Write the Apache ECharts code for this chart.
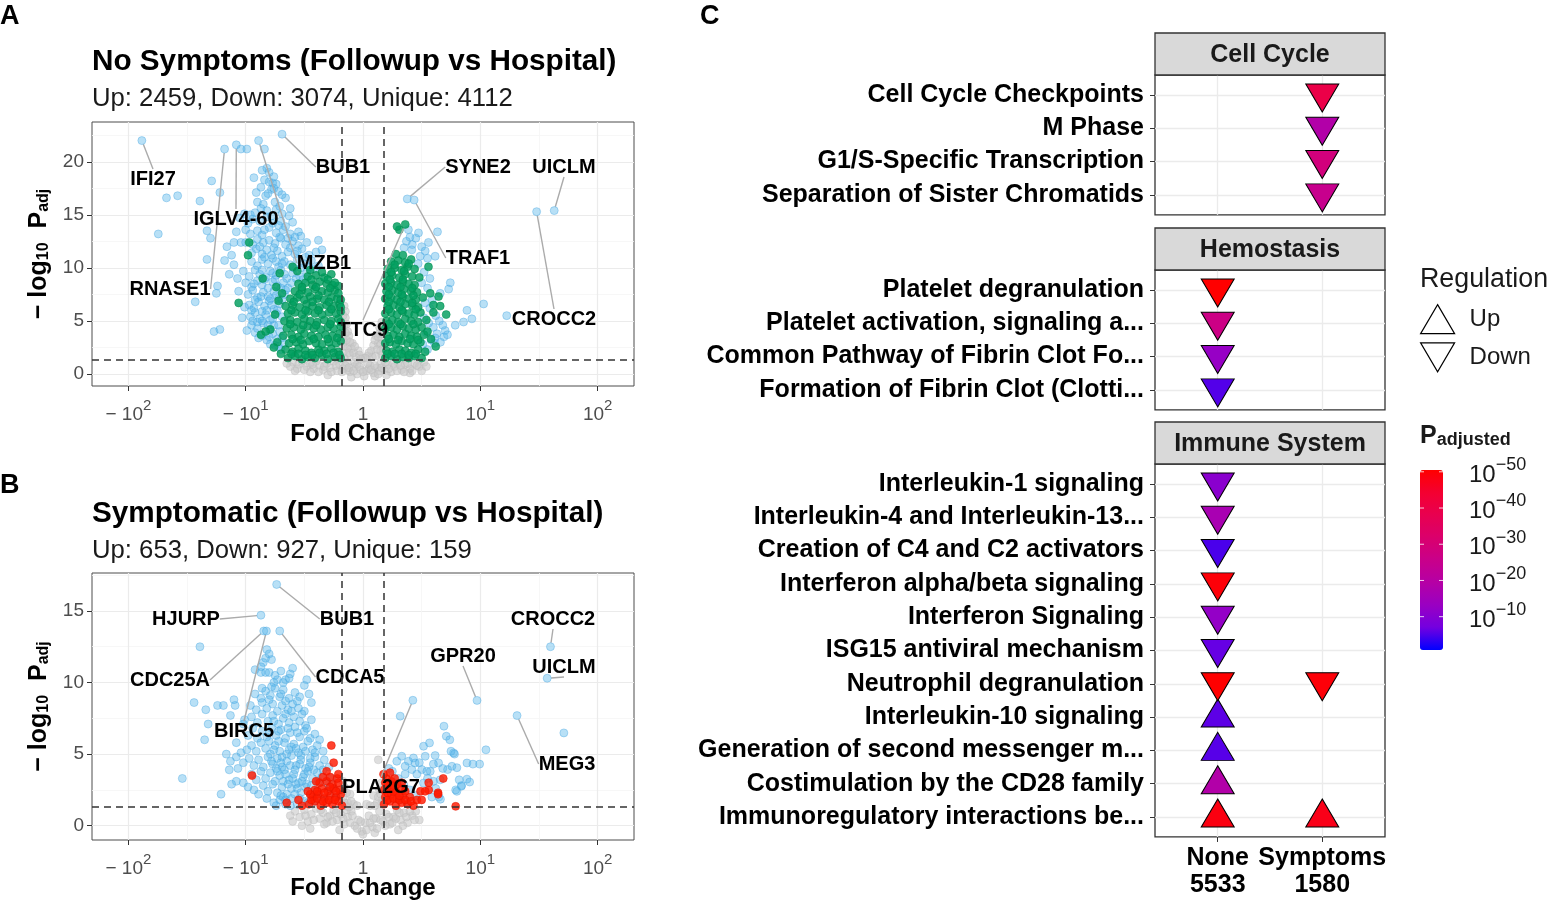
<!DOCTYPE html>
<html>
<head>
<meta charset="utf-8">
<title>Volcano plots and pathway enrichment</title>
<script src="https://cdn.jsdelivr.net/npm/echarts@6.0.0/dist/echarts.min.js"></script>
<style>
html,body{margin:0;padding:0;background:#fff;}
#chart{width:1554px;height:904px;}
</style>
</head>
<body>
<div id="chart"></div>
<script>
// ======================= DATA =======================
// Volcano plots: x = signed log10(fold change), y = -log10(Padj)
const xTickValues = [-2, -1, 0, 1, 2];
const xTickLabels = [['− 10', '2'], ['− 10', '1'], ['1', ''], ['10', '1'], ['10', '2']];
const yTickValuesA = [0, 5, 10, 15, 20];
const yTickValuesB = [0, 5, 10, 15];
const fcCutoff = 0.176;   // log10(1.5)
const padjCutoff = 1.3;   // -log10(0.05)

// ---- Panel A: No Symptoms ----
const aGrey = [[-0.60,1.1],[-0.55,0.9],[-0.52,1.2],[-0.48,0.7],[-0.45,1.0],[-0.42,0.5],[-0.40,1.2],[-0.37,0.8],[-0.34,0.4],[-0.31,1.0],[-0.28,0.6],[-0.25,1.2],[-0.22,0.3],[-0.20,0.9],[-0.17,0.5],[-0.14,1.1],[-0.11,0.2],[-0.08,0.7],[-0.05,0.0],[-0.02,0.4],[0.01,-0.2],[0.03,0.3],[0.06,0.8],[0.09,0.1],[0.12,0.6],[0.15,1.0],[0.18,0.4],[0.21,0.9],[0.24,0.2],[0.27,0.7],[0.30,1.1],[0.33,0.4],[0.36,0.9],[0.40,0.5],[0.44,1.0],[0.48,0.7],[0.52,1.1],[-0.30,-0.1],[-0.10,-0.3],[0.10,-0.2],[0.20,-0.1],[-0.45,0.2],[0.40,0.1],[-0.56,0.5],[-0.05,0.9],[0.05,0.5],[-0.13,0.4],[0.14,0.3],
 [-0.58,0.3],[-0.50,0.4],[-0.43,0.9],[-0.38,0.2],[-0.33,0.7],[-0.27,0.2],[-0.23,0.8],[-0.18,0.2],[-0.15,0.8],[-0.12,0.6],[-0.08,0.3],[-0.07,1.1],[-0.03,0.7],[0.00,0.2],[0.04,1.0],[0.07,0.4],[0.10,0.8],[0.13,0.0],[0.16,0.6],[0.19,1.1],[0.22,0.5],[0.26,1.0],[0.29,0.3],[0.32,0.8],[0.35,0.2],[0.38,1.0],[0.42,0.3],[0.46,0.8],[0.50,0.3],[0.54,0.7],[-0.62,0.7],[-0.65,1.0],
 [-0.17,2.0],[-0.16,3.0],[-0.17,4.2],[-0.15,5.3],[-0.16,6.4],[-0.13,2.5],[-0.12,3.6],[-0.14,4.7],[-0.11,1.8],[-0.09,2.9],[-0.06,1.6],[-0.04,2.2],[-0.15,5.9],[-0.13,4.0],[-0.10,2.4],[-0.16,1.5],
 [-0.17,2.6],[-0.17,3.5],[-0.16,4.6],[-0.17,5.5],[-0.14,3.2],[-0.12,2.0],[-0.11,3.0],[-0.08,2.0],[-0.07,2.6],[-0.03,1.8],[0.00,1.5],[0.04,1.7],[0.07,2.2],[0.09,2.7],[0.11,3.6],[0.13,2.9],[0.14,3.8],[0.16,3.3],[0.17,4.2],[0.17,2.4],[-0.15,3.9],
 [0.16,1.8],[0.15,2.8],[0.16,3.8],[0.14,4.4],[0.12,2.3],[0.10,3.2],[0.08,1.6],[0.05,2.0],[0.02,1.5],[0.16,4.9],[0.13,3.5],[0.11,1.7],[-0.02,1.4],[0.15,2.2]];
const aBlue = [[-1.04,21.2],[-0.99,21.2],[-0.84,21.2],[-0.82,19.4],[-0.80,19.0],
 [-1.29,18.2],[-0.93,18.5],[-0.84,18.3],[-0.80,18.1],[-0.77,18.0],[-0.74,17.9],
 [-1.22,17.1],[-0.87,17.6],[-0.78,17.4],[-0.76,17.5],[-0.72,17.2],[-0.81,17.0],
 [-1.675,16.6],[-1.58,16.8],[-1.39,16.3],[-0.66,16.6],[-0.90,16.2],[-0.85,16.0],[-0.75,16.2],
 [-1.01,15.1],[-0.96,15.0],[-0.92,15.2],[-0.82,15.4],[-0.74,15.5],[-0.69,15.1],[-0.62,15.6],
 [-1.05,14.7],[-0.94,14.6],[-0.88,14.4],[-0.82,14.8],[-0.77,14.2],[-0.70,14.4],[-0.63,14.9],[-0.60,14.3],
 [-1.745,13.2],[-1.33,13.5],[-1.00,13.6],[-0.96,13.2],[-0.90,13.5],[-0.86,13.1],[-0.80,13.8],[-0.74,13.3],[-0.68,13.6],[-0.62,13.2],[-0.55,13.4],[-0.53,13.0],
 [-1.30,12.8],[-1.10,12.4],[-1.04,12.4],[-1.00,12.4],[-0.94,12.2],[-0.90,12.7],[-0.85,12.4],[-0.80,12.6],[-0.75,12.3],[-0.70,12.8],[-0.66,12.2],[-0.60,12.5],[-0.55,12.1],[-0.48,12.4],[-0.38,12.6],
 [-0.95,11.4],[-0.91,11.8],[-0.86,11.3],[-0.82,11.7],[-0.78,11.2],[-0.73,11.6],[-0.69,11.1],[-0.64,11.5],[-0.58,11.3],[-0.52,11.8],[-0.46,11.2],[-0.40,11.5],[-0.35,11.7],
 [-1.33,10.8],[-1.18,10.7],[-1.10,10.3],[-0.95,10.6],[-0.90,10.2],[-0.86,10.8],[-0.81,10.4],[-0.77,10.9],[-0.72,10.1],[-0.67,10.6],[-0.62,10.3],[-0.56,10.8],[-0.50,10.4],[-0.44,10.7],[-0.38,10.2],
 [-1.14,9.4],[-1.02,9.7],[-0.97,9.2],[-0.92,9.8],[-0.88,9.4],[-0.83,9.1],[-0.79,9.7],[-0.74,9.3],[-0.70,9.8],[-0.65,9.0],[-0.60,9.5],[-0.54,9.2],[-0.48,9.6],
 [-1.24,8.3],[-1.00,8.6],[-0.95,8.2],[-0.90,8.8],[-0.86,8.4],[-0.81,8.1],[-0.77,8.7],[-0.73,8.3],[-0.68,8.6],[-0.64,8.1],
 [-1.25,7.6],[-0.98,7.5],[-0.94,7.9],[-0.90,7.2],[-0.85,7.7],[-0.81,7.3],[-0.76,7.8],[-0.72,7.1],[-0.67,7.5],
 [-1.43,6.8],[-0.97,6.5],[-0.93,6.2],[-0.89,6.8],[-0.84,6.4],[-0.80,6.9],[-0.76,6.1],[-0.71,6.6],
 [-0.96,5.4],[-0.92,5.8],[-0.88,5.2],[-0.83,5.6],[-0.79,5.1],[-0.74,5.7],
 [-1.27,4.0],[-1.22,4.2],[-0.95,4.6],[-0.90,4.3],[-0.85,4.8],[-0.80,4.2],[-0.76,4.6],
 [-0.86,3.6],[-0.82,3.2],[-0.77,3.8],[-0.73,3.3],[-0.75,2.7],[-0.70,2.3],
 [-0.78,14.9],[-0.72,14.0],[-0.66,13.9],[-0.84,13.6],[-0.71,12.9],[-0.64,12.8],[-0.58,12.9],[-0.88,12.0],[-0.76,11.9],[-0.62,11.9],[-0.56,11.6],[-0.49,11.0],[-0.84,11.0],[-0.74,10.6],[-0.69,10.4],[-0.59,10.0],[-0.53,10.0],[-0.46,10.1],[-0.42,9.9],[-0.86,9.8],[-0.77,9.5],[-0.67,9.4],[-0.57,9.0],[-0.51,8.9],[-0.93,8.5],[-0.84,8.9],[-0.75,8.9],[-0.70,8.1],[-0.66,7.9],[-0.61,8.6],[-0.92,7.0],[-0.87,7.3],[-0.79,7.1],[-0.74,7.4],[-0.69,7.0],[-0.95,6.0],[-0.86,5.9],[-0.82,6.0],[-0.78,6.5],[-0.73,6.0],[-0.69,5.4],[-0.94,5.0],[-0.90,4.9],[-0.86,5.0],[-0.81,4.6],[-0.77,5.2],[-0.72,4.6],[-0.71,4.0],[-0.92,3.9],[-0.89,3.4],[-0.80,3.5],[-0.69,3.4],[-0.79,2.8],[-0.72,2.6],[-0.67,2.9],[-0.99,4.1],[-1.03,5.3],[-1.01,6.3],[-1.06,7.8],[-1.07,9.0],[-1.12,11.2],[-1.16,12.0],[-1.08,13.4],[-0.98,14.2],[-0.87,15.6],[-0.71,15.8],[-0.69,16.9],[-0.83,16.8],[-0.91,17.1],[-0.76,18.6],[-0.86,19.2],
 [0.387,13.6],[0.473,13.3],[0.558,12.4],[0.635,13.4],[0.416,11.7],[0.487,11.1],[0.615,11.1],[0.744,8.6],[0.73,8.0],[0.658,7.6],[0.786,4.6],[0.857,4.9],[0.886,6.0],[0.928,5.2],[1.028,6.6],[1.225,5.5],[0.63,3.8],[0.69,3.5],[0.70,4.1],[0.615,3.4],
 [0.45,12.8],[0.50,12.0],[0.42,12.2],[0.53,11.6],[0.47,10.4],[0.55,10.9],[0.52,9.6],[0.57,9.0],[0.50,8.6],[0.55,8.1],[0.59,7.0],[0.53,6.7],[0.57,6.2],[0.52,5.3],[0.56,4.8],[0.60,4.4],[0.54,3.9],[0.58,3.2],[0.51,2.8],[0.55,2.3],[0.61,2.9],[0.65,5.0],[0.68,4.6],[0.62,5.5],[0.66,3.0],[0.72,3.7],[0.40,12.9],[0.37,12.5],[0.35,11.9]];
const aGreen = [[-0.64,1.5],[-0.58,1.7],[-0.52,1.4],[-0.47,1.6],[-0.41,1.5],[-0.35,1.8],[-0.30,1.4],[-0.24,1.6],[-0.19,1.5],
 [-0.66,2.3],[-0.60,2.1],[-0.55,2.4],[-0.49,2.2],[-0.44,2.0],[-0.38,2.3],[-0.33,2.2],[-0.27,2.4],[-0.21,2.1],
 [-0.63,2.9],[-0.57,3.0],[-0.51,2.8],[-0.46,3.1],[-0.40,2.9],[-0.35,2.8],[-0.29,3.0],[-0.23,2.9],[-0.19,3.1],
 [-0.68,3.6],[-0.61,3.7],[-0.55,3.5],[-0.50,3.8],[-0.44,3.6],[-0.38,3.5],[-0.32,3.7],[-0.26,3.6],[-0.20,3.8],
 [-0.65,4.3],[-0.59,4.4],[-0.53,4.2],[-0.47,4.5],[-0.42,4.3],[-0.36,4.2],[-0.30,4.4],[-0.25,4.3],[-0.19,4.5],
 [-0.67,5.0],[-0.62,5.1],[-0.56,4.9],[-0.50,5.2],[-0.45,5.0],[-0.39,4.9],[-0.33,5.1],[-0.27,5.0],[-0.21,5.2],
 [-0.64,5.7],[-0.58,5.8],[-0.52,5.6],[-0.47,5.9],[-0.41,5.7],[-0.35,5.6],[-0.29,5.8],[-0.23,5.7],[-0.19,5.9],
 [-0.66,6.4],[-0.60,6.5],[-0.54,6.3],[-0.48,6.6],[-0.43,6.4],[-0.37,6.3],[-0.31,6.5],[-0.25,6.4],[-0.20,6.6],
 [-0.62,7.1],[-0.56,7.2],[-0.50,7.0],[-0.45,7.3],[-0.39,7.1],[-0.33,7.0],[-0.27,7.2],[-0.22,7.1],
 [-0.58,7.8],[-0.52,7.9],[-0.47,7.7],[-0.41,8.0],[-0.35,7.8],[-0.30,7.7],[-0.24,7.9],
 [-0.55,8.5],[-0.49,8.6],[-0.43,8.4],[-0.37,8.7],[-0.31,8.5],[-0.26,8.4],
 [-0.47,9.2],[-0.40,9.3],[-0.33,9.1],[-0.27,9.4],
 [-0.61,1.9],[-0.55,1.9],[-0.49,1.8],[-0.43,1.8],[-0.37,2.0],[-0.31,1.9],[-0.25,2.0],[-0.20,1.8],[-0.60,3.3],[-0.53,3.2],[-0.42,3.3],[-0.30,3.3],[-0.22,3.4],[-0.62,4.7],[-0.51,4.6],[-0.40,4.6],[-0.28,4.7],[-0.19,4.9],[-0.61,6.0],[-0.49,6.0],[-0.38,6.0],[-0.27,6.1],[-0.19,6.3],[-0.59,6.8],[-0.43,6.8],[-0.29,6.8],[-0.19,7.0],[-0.54,7.5],[-0.38,7.4],[-0.21,7.6],[-0.52,8.2],[-0.40,8.2],[-0.28,8.1],[-0.21,8.3],[-0.44,8.9],[-0.30,8.9],
 [-0.97,12.4],[-0.98,11.2],[-1.06,6.7],[-0.855,9.0],[-0.79,4.2],[-0.87,3.7],[-0.71,9.5],[-0.56,9.7],[-0.45,9.8],[-0.35,9.6],[-0.24,8.6],[-0.74,8.2],[-0.72,6.9],[-0.75,5.6],[-0.73,3.0],[-0.70,1.9],[-0.76,2.5],[-0.83,4.0],[-0.69,7.6],[-0.60,10.1],
 [0.19,1.5],[0.24,1.7],[0.29,1.4],[0.34,1.6],[0.39,1.5],[0.44,1.7],[0.50,1.5],
 [0.20,2.2],[0.25,2.1],[0.31,2.3],[0.36,2.2],[0.41,2.0],[0.47,2.3],[0.53,2.1],
 [0.19,2.9],[0.23,3.0],[0.28,2.8],[0.33,3.1],[0.38,2.9],[0.43,2.8],[0.49,3.0],
 [0.21,3.6],[0.26,3.7],[0.31,3.5],[0.36,3.8],[0.41,3.6],[0.46,3.5],[0.52,3.7],
 [0.19,4.3],[0.24,4.4],[0.29,4.2],[0.34,4.5],[0.39,4.3],[0.45,4.2],[0.50,4.4],
 [0.20,5.0],[0.25,5.1],[0.30,4.9],[0.36,5.2],[0.41,5.0],[0.47,4.9],[0.54,5.1],
 [0.19,5.7],[0.24,5.8],[0.29,5.6],[0.34,5.9],[0.39,5.7],[0.44,5.6],[0.49,5.8],
 [0.21,6.4],[0.26,6.5],[0.31,6.3],[0.36,6.6],[0.42,6.4],[0.47,6.3],
 [0.19,7.1],[0.24,7.2],[0.29,7.0],[0.34,7.3],[0.39,7.1],[0.45,7.0],[0.51,7.2],
 [0.20,7.8],[0.25,7.9],[0.30,7.7],[0.35,8.0],[0.41,7.8],[0.46,7.7],
 [0.19,8.5],[0.24,8.6],[0.29,8.4],[0.34,8.7],[0.39,8.5],[0.44,8.4],
 [0.20,9.2],[0.25,9.3],[0.31,9.1],[0.36,9.4],[0.42,9.2],[0.48,9.1],
 [0.21,9.9],[0.27,10.0],[0.33,9.8],[0.38,10.1],[0.44,9.9],
 [0.24,10.6],[0.30,10.7],[0.36,10.5],[0.41,10.8],[0.28,11.3],[0.34,11.2],
 [0.21,1.9],[0.27,1.9],[0.33,1.9],[0.39,1.8],[0.45,1.9],[0.22,3.3],[0.30,3.2],[0.40,3.3],[0.47,3.2],[0.22,4.7],[0.32,4.7],[0.43,4.7],[0.22,6.1],[0.33,6.0],[0.45,6.1],[0.22,6.8],[0.32,6.8],[0.42,6.7],[0.22,7.5],[0.33,7.5],[0.43,7.4],[0.22,8.2],[0.32,8.2],[0.42,8.1],[0.23,8.9],[0.34,8.9],[0.24,9.6],[0.35,9.7],[0.27,10.3],[0.39,10.4],
 [0.31,13.6],[0.29,13.9],[0.558,10.1],[0.573,7.6],[0.644,7.3],[0.658,6.4],[0.709,5.6],[0.60,5.8],[0.60,6.5],[0.55,4.0],[0.58,3.3],[0.62,2.6]];
const aGenes     = ['IFI27','RNASE1','IGLV4-60','MZB1','BUB1','SYNE2','TRAF1','TTC9','UICLM','CROCC2'];
const aGeneFC    = [-1.885,-1.18,-1.08,-0.89,-0.69,0.377,0.436,0.36,1.63,1.48];
const aGeneP     = [22.0,21.2,21.6,22.0,22.6,16.5,16.4,14.1,15.4,15.3];
const aGeneGroup = ['blue','blue','blue','blue','blue','blue','blue','green','blue','blue'];

// ---- Panel B: Symptomatic ----
const bGrey = [[-0.58,1.0],[-0.54,0.6],[-0.50,1.1],[-0.47,0.3],[-0.44,0.8],[-0.40,1.2],[-0.37,0.5],[-0.34,0.9],[-0.31,0.2],[-0.28,0.7],[-0.25,1.1],[-0.22,0.4],[-0.19,0.8],[-0.16,0.1],[-0.13,0.6],[-0.10,1.0],[-0.07,0.0],[-0.04,0.4],[-0.01,-0.4],[0.02,0.2],[0.05,0.7],[0.08,-0.1],[0.11,0.5],[0.14,1.0],[0.17,0.3],[0.20,0.8],[0.23,0.1],[0.26,0.6],[0.29,1.1],[0.32,0.4],[0.35,0.9],[0.38,0.2],[0.42,0.7],[0.45,1.0],[-0.45,-0.2],[-0.20,-0.3],[0.00,-0.6],[0.10,-0.5],[0.30,-0.3],[-0.62,0.7],[0.48,0.4],
 [-0.60,0.3],[-0.52,0.0],[-0.49,0.7],[-0.42,0.4],[-0.36,1.1],[-0.33,0.1],[-0.30,0.6],[-0.26,0.3],[-0.23,0.9],[-0.17,0.5],[-0.14,1.1],[-0.11,0.2],[-0.09,0.7],[-0.05,-0.2],[-0.02,0.3],[0.03,-0.3],[0.06,0.2],[0.09,0.5],[0.12,-0.2],[0.15,0.4],[0.19,0.0],[0.22,0.6],[0.25,0.2],[0.28,0.5],[0.31,0.9],[0.34,0.0],[0.37,0.6],[0.40,1.0],[0.44,0.4],
 [-0.17,2.0],[-0.16,2.7],[-0.13,1.6],[-0.11,2.2],[-0.08,1.5],[0.16,1.8],[0.14,2.5],[0.12,1.6],[0.09,2.1],[0.06,1.4],[0.13,4.6],[-0.17,3.1],[-0.15,1.4],[0.16,3.0],
 [-0.16,1.6],[-0.14,2.3],[-0.12,1.3],[-0.10,1.7],[-0.05,1.4],[0.03,1.5],[0.10,1.4],[0.13,2.0],[0.15,2.2],[0.17,1.5],[-0.17,2.4]];
const bBlue = [[-0.82,12.3],[-0.80,12.0],[-0.83,11.7],[-0.85,11.4],[-0.87,11.1],[-0.60,11.0],[-0.62,10.6],[-0.78,11.6],[-1.39,12.5],
 [-0.92,10.9],[-0.87,10.7],[-0.83,10.7],[-0.80,10.7],[-0.75,10.5],[-0.70,10.8],[-0.73,10.2],[-0.66,10.2],[-0.63,10.3],[-0.48,10.2],[-0.50,9.8],
 [-0.92,9.2],[-0.87,8.9],[-0.83,9.4],[-0.79,9.1],[-0.75,9.6],[-0.71,9.0],[-0.68,9.5],[-0.63,8.9],[-0.58,9.3],[-0.54,9.0],[-0.46,9.2],[-0.44,8.6],
 [-1.44,8.6],[-1.34,8.1],[-1.24,8.4],[-1.19,8.4],[-1.10,8.8],[-1.09,8.4],[-0.96,8.4],[-0.91,8.1],[-0.86,8.6],[-0.82,8.2],[-0.77,8.5],[-0.73,8.0],[-0.69,8.4],[-0.64,8.1],[-0.60,8.5],[-0.55,8.2],[-0.50,8.0],
 [-1.32,7.1],[-1.13,7.7],[-1.01,7.4],[-1.02,7.1],[-0.95,7.6],[-0.90,7.2],[-0.86,7.8],[-0.81,7.3],[-0.77,7.7],[-0.72,7.1],[-0.68,7.5],[-0.63,7.2],[-0.59,7.6],[-0.54,7.3],[-0.49,7.0],[-0.44,7.4],
 [-1.35,6.0],[-0.98,6.3],[-0.94,6.8],[-0.90,6.1],[-0.86,6.6],[-0.82,6.2],[-0.78,6.8],[-0.74,6.3],[-0.70,6.7],[-0.66,6.1],[-0.62,6.5],[-0.58,6.9],[-0.54,6.2],[-0.50,6.6],[-0.45,6.1],[-0.41,6.4],[-0.37,6.0],
 [-1.165,5.0],[-1.04,5.1],[-0.99,5.3],[-1.08,5.8],[-0.95,5.6],[-0.91,5.2],[-0.87,5.8],[-0.83,5.4],[-0.79,5.0],[-0.75,5.6],[-0.71,5.2],[-0.67,5.8],[-0.63,5.3],[-0.59,5.7],[-0.55,5.1],[-0.51,5.5],[-0.47,5.9],[-0.43,5.3],[-0.39,5.6],[-0.34,5.2],
 [-1.13,4.5],[-1.08,4.8],[-1.14,3.9],[-1.066,4.0],[-1.02,4.4],[-0.97,4.7],[-0.93,4.2],[-0.89,4.6],[-0.85,4.1],[-0.81,4.8],[-0.77,4.3],[-0.73,4.7],[-0.69,4.1],[-0.65,4.5],[-0.61,4.9],[-0.57,4.2],[-0.53,4.6],[-0.49,4.0],[-0.45,4.4],[-0.41,4.8],[-0.37,4.2],[-0.33,4.6],[-0.29,4.1],
 [-1.54,3.3],[-1.08,3.1],[-1.02,3.0],[-0.98,2.7],[-0.95,3.6],[-0.91,3.2],[-0.87,3.8],[-0.83,3.3],[-0.79,3.7],[-0.75,3.1],[-0.71,3.5],[-0.67,3.9],[-0.63,3.2],[-0.59,3.6],[-0.55,3.0],[-0.51,3.4],[-0.47,3.8],[-0.43,3.3],[-0.39,3.7],[-0.35,3.4],[-0.31,3.0],[-0.27,3.3],
 [-1.21,2.2],[-1.12,2.9],[-0.93,2.5],[-0.89,2.2],[-0.85,2.8],[-0.81,2.4],[-0.77,2.9],[-0.73,2.3],[-0.69,2.7],[-0.65,2.2],[-0.61,2.6],[-0.57,2.9],[-0.53,2.3],[-0.49,2.7],[-0.45,2.2],[-0.29,2.6],[-0.24,2.2],
 [-0.82,1.9],[-0.76,1.6],[-0.71,1.8],[-0.66,1.5],[-0.61,1.9],[-0.56,1.5],[-0.50,1.7],[-0.62,1.4],[-0.68,2.0],[-0.74,1.4],
 [-0.80,5.9],[-0.76,5.3],[-0.72,5.9],[-0.69,4.8],[-0.65,5.0],[-0.61,5.5],[-0.57,5.4],[-0.53,4.9],[-0.49,5.2],[-0.45,4.7],[-0.41,5.1],[-0.78,4.5],[-0.74,4.0],[-0.70,4.4],[-0.66,3.6],[-0.62,4.2],[-0.58,3.9],[-0.54,4.3],[-0.50,3.6],[-0.46,4.1],[-0.42,3.9],[-0.38,3.1],[-0.34,3.9],[-0.73,3.8],[-0.68,3.1],[-0.64,2.9],[-0.60,3.3],[-0.56,2.6],[-0.52,3.1],[-0.48,2.9],[-0.44,2.8],[-0.40,2.2],[-0.36,2.0],[-0.70,2.1],[-0.66,1.8],[-0.58,2.2],[-0.54,1.9],[-0.47,1.6],[-0.42,1.7],[-0.80,6.5],[-0.72,6.6],[-0.64,6.8],[-0.56,6.5],[-0.48,6.8],[-0.76,7.3],[-0.66,7.8],[-0.61,8.0],[-0.52,7.8],[-0.80,8.8],[-0.70,9.2],[-0.66,8.7],[-0.56,8.7],[-0.76,10.0],[-0.68,10.0],[-0.86,9.6],[-0.78,9.7],
 [0.317,7.65],[0.69,6.95],[0.71,6.25],[0.74,6.0],[0.516,5.55],[0.567,5.78],[1.048,5.3],[0.772,5.08],[1.712,6.48],
 [0.33,4.85],[0.43,4.73],[0.53,4.85],[0.615,4.9],[0.644,4.38],[0.444,4.38],[0.387,4.5],[0.288,4.5],[0.886,4.38],[0.937,4.3],[0.994,4.3],[0.721,3.92],[0.758,4.15],[0.80,4.05],[0.359,4.15],[0.416,3.92],[0.501,3.92],[0.573,3.8],[0.544,3.8],[0.886,3.25],[0.909,3.05],[0.601,3.1],[0.658,3.2],[0.516,2.98],[0.459,3.6],[0.359,3.6],[0.80,2.4],[0.838,2.75],[0.647,2.0],[0.66,1.85],[0.587,2.0],[0.30,3.3],[0.26,3.0],[0.35,2.8],[0.40,2.5],[0.27,2.2],[0.32,1.9],[0.45,2.1],[0.38,1.6],[0.75,5.2],[0.78,5.0],[0.84,2.8],[0.79,2.5],[0.82,3.2],[0.60,4.3],[0.68,4.0],[0.48,4.4],[0.25,3.8],[0.22,4.0],[0.55,3.3],[0.62,2.6]];
const bRed = [[-0.46,1.5],[-0.41,1.7],[-0.36,1.4],[-0.31,1.6],[-0.26,1.5],[-0.21,1.7],[-0.18,1.4],
 [-0.43,2.0],[-0.38,2.2],[-0.33,1.9],[-0.28,2.1],[-0.23,2.0],[-0.19,2.2],
 [-0.41,2.5],[-0.35,2.6],[-0.30,2.4],[-0.25,2.6],[-0.20,2.5],
 [-0.37,3.0],[-0.31,3.1],[-0.26,2.9],[-0.21,3.0],
 [-0.44,1.8],[-0.39,1.9],[-0.34,1.7],[-0.29,1.8],[-0.24,1.8],[-0.39,2.4],[-0.33,2.3],[-0.28,2.7],[-0.23,2.4],[-0.34,3.4],[-0.28,3.4],[-0.22,3.3],[-0.45,2.2],
 [-0.27,5.6],[-0.25,4.4],[-0.31,3.8],[-0.21,3.6],[-0.40,3.1],[-0.47,2.4],[-0.52,1.4],[-0.946,3.5],[-0.65,1.6],[-0.55,1.8],
 [0.18,1.5],[0.23,1.7],[0.28,1.4],[0.33,1.6],[0.38,1.5],[0.43,1.4],
 [0.19,2.0],[0.24,2.2],[0.29,1.9],[0.34,2.1],[0.40,2.0],
 [0.18,2.5],[0.23,2.6],[0.28,2.4],[0.33,2.6],
 [0.19,3.0],[0.24,3.1],[0.29,2.9],
 [0.21,1.8],[0.26,1.9],[0.31,1.8],[0.36,1.8],[0.41,1.7],[0.21,2.3],[0.26,2.4],[0.31,2.1],[0.36,2.4],[0.21,2.8],[0.26,2.8],[0.33,3.0],[0.20,3.3],[0.27,3.3],
 [0.175,3.6],[0.23,3.7],[0.56,2.5],[0.49,2.4],[0.56,3.0],[0.64,2.3],[0.684,3.3],[0.79,1.35],[0.46,1.8],[0.50,1.8],[0.53,2.4],[0.64,2.2]];
const bGenes     = ['HJURP','BUB1','CDC25A','BIRC5','CDCA5','PLA2G7','GPR20','CROCC2','UICLM','MEG3'];
const bGeneFC    = [-0.87,-0.736,-0.846,-0.823,-0.71,0.425,0.972,1.598,1.57,1.313];
const bGeneP     = [14.7,16.85,13.6,13.6,13.6,8.76,8.75,12.5,10.3,7.69];
const bGeneGroup = ['blue','blue','blue','blue','blue','blue','blue','blue','blue','blue'];

// ---- Panel C: Reactome pathways (value = -log10 Padj) ----
const groupLabels = ['None\n5533', 'Symptoms\n1580'];
const cellCyclePaths = ['Cell Cycle Checkpoints','M Phase','G1/S-Specific Transcription','Separation of Sister Chromatids'];
const cellCycleNoneDir  = [null, null, null, null];
const cellCycleNoneLogP = [null, null, null, null];
const cellCycleSympDir  = ['Down','Down','Down','Down'];
const cellCycleSympLogP = [39.6, 18.7, 28.6, 25.0];
const hemostasisPaths = ['Platelet degranulation','Platelet activation, signaling a...','Common Pathway of Fibrin Clot Fo...','Formation of Fibrin Clot (Clotti...'];
const hemostasisNoneDir  = ['Down','Down','Down','Down'];
const hemostasisNoneLogP = [50.5, 26.6, 12.7, 5.3];
const hemostasisSympDir  = [null, null, null, null];
const hemostasisSympLogP = [null, null, null, null];
const immunePaths = ['Interleukin-1 signaling','Interleukin-4 and Interleukin-13...','Creation of C4 and C2 activators','Interferon alpha/beta signaling','Interferon Signaling','ISG15 antiviral mechanism','Neutrophil degranulation','Interleukin-10 signaling','Generation of second messenger m...','Costimulation by the CD28 family','Immunoregulatory interactions be...'];
const immuneNoneDir  = ['Down','Down','Down','Down','Down','Down','Down','Up','Up','Up','Up'];
const immuneNoneLogP = [10.7, 16.7, 4.8, 49.5, 12.2, 6.3, 50.5, 5.8, 5.5, 18.7, 48.5];
const immuneSympDir  = [null, null, null, null, null, null, 'Down', null, null, null, 'Up'];
const immuneSympLogP = [null, null, null, null, null, null, 49.5, null, null, null, 47.5];
const pLegendExponents = [50, 40, 30, 20, 10];
const padjRange = [0.8, 50.5];

// ======================= STYLE / LAYOUT =======================
const FF = '"Liberation Sans", Arial, Helvetica, sans-serif';
const ptFill   = { grey:'rgba(200,200,200,0.6)', blue:'rgba(86,180,233,0.42)', green:'rgba(0,158,94,0.82)', red:'rgba(255,26,0,0.82)' };
const ptBorder = { grey:'rgba(185,185,185,0.6)', blue:'rgba(70,165,225,0.65)', green:'rgba(0,140,80,0.85)', red:'rgba(230,20,0,0.85)' };
const gradient = ['#0000FF','#7300E0','#9A00C2','#B500A5','#C9008A','#DA006C','#E80050','#F40031','#FF0000'];
const aLabelPos = { IFI27:[153,179], RNASE1:[170,289], 'IGLV4-60':[236,219], MZB1:[324,263], BUB1:[343,167], SYNE2:[478,167], TRAF1:[478,258], TTC9:[363,330], UICLM:[564,167], CROCC2:[554,319] };
const bLabelPos = { HJURP:[186,619], BUB1:[347,619], CDC25A:[170,680], BIRC5:[244,731], CDCA5:[350,677], PLA2G7:[381,787], GPR20:[463,656], CROCC2:[553,619], UICLM:[564,667], MEG3:[567,764] };
const volGrids = [ {left:92, top:122, width:542, height:264}, {left:92, top:573, width:542, height:267} ];
const volY = [ {min:-1.13, max:23.75, split:5, ticks:yTickValuesA}, {min:-1.0, max:17.65, split:4, ticks:yTickValuesB} ];
const cLeft = 1155, cWidth = 230, stripH = 42, rowH = 33.3;
const facetStripTops = [33, 228, 422];
const cbar = { left: 1420, top: 470, width: 23, height: 180 };

const facets = [
  { name:'Cell Cycle', paths:cellCyclePaths, noneDir:cellCycleNoneDir, noneP:cellCycleNoneLogP, sympDir:cellCycleSympDir, sympP:cellCycleSympLogP },
  { name:'Hemostasis', paths:hemostasisPaths, noneDir:hemostasisNoneDir, noneP:hemostasisNoneLogP, sympDir:hemostasisSympDir, sympP:hemostasisSympLogP },
  { name:'Immune System', paths:immunePaths, noneDir:immuneNoneDir, noneP:immuneNoneLogP, sympDir:immuneSympDir, sympP:immuneSympLogP }
];

// ======================= BUILD OPTION =======================
const grid = [], xAxis = [], yAxis = [], series = [], graphic = [];
const axisGrey = '#4D4D4D';

function findIdx(arr, v) { for (let i = 0; i < arr.length; i++) if (Math.abs(arr[i] - v) < 1e-6) return i; return -1; }

volGrids.forEach((g, k) => {
  grid.push(Object.assign({ show:true, borderColor:'#4D4D4D', borderWidth:1, backgroundColor:'#fff', containLabel:false, outerBoundsMode:'none' }, g));
  xAxis.push({
    type:'value', gridIndex:k, min:-2.31, max:2.31, splitNumber:5,
    axisLine:{show:false, onZero:false},
    axisTick:{show:true, length:5, customValues:xTickValues, lineStyle:{color:'#333', width:1}},
    axisLabel:{ customValues:xTickValues, margin:12,
      formatter:(v) => { const i = findIdx(xTickValues, v); if (i < 0) return ''; const t = xTickLabels[i]; return t[1] ? '{b|' + t[0] + '}{s|' + t[1] + '}' : '{b|' + t[0] + '}'; },
      rich:{ b:{fontSize:19, color:axisGrey, fontFamily:FF, lineHeight:26, verticalAlign:'bottom'}, s:{fontSize:15, color:axisGrey, fontFamily:FF, verticalAlign:'top'} } },
    splitLine:{show:true, lineStyle:{color:'#EBEBEB', width:1.2}},
    minorTick:{show:false, splitNumber:2},
    minorSplitLine:{show:true, lineStyle:{color:'#F5F5F5', width:0.8}},
    name:'Fold Change', nameLocation:'middle', nameGap:36, nameMoveOverlap:false,
    nameTextStyle:{fontSize:24, fontWeight:'bold', color:'#000', fontFamily:FF}
  });
  const vy = volY[k];
  yAxis.push({
    type:'value', gridIndex:k, min:vy.min, max:vy.max, splitNumber:vy.split,
    axisLine:{show:false, onZero:false},
    axisTick:{show:true, length:5, customValues:vy.ticks, lineStyle:{color:'#333', width:1}},
    axisLabel:{ customValues:vy.ticks, margin:8, fontSize:19, color:axisGrey, fontFamily:FF,
      formatter:(v) => findIdx(vy.ticks, v) >= 0 ? String(v) : '' },
    splitLine:{show:true, lineStyle:{color:'#EBEBEB', width:1.2}},
    minorTick:{show:false, splitNumber:2},
    minorSplitLine:{show:true, lineStyle:{color:'#F5F5F5', width:0.8}},
    name:'{l|− log}{s|10}{l|  P}{s|adj}', nameLocation:'middle', nameGap:40, nameRotate:90,
    nameTextStyle:{ color:'#000', rich:{ l:{fontSize:25, fontWeight:'bold', color:'#000', fontFamily:FF}, s:{fontSize:16, fontWeight:'bold', color:'#000', fontFamily:FF, verticalAlign:'bottom'} } }
  });
});

function pointSeries(k, data, grp, z) {
  return { type:'scatter', xAxisIndex:k, yAxisIndex:k, data:data, symbol:'circle', symbolSize:8, z:z, silent:true,
    itemStyle:{ color:ptFill[grp], borderColor:ptBorder[grp], borderWidth:0.6, opacity:1 } };
}
function labelSeries(k, genes, fc, p, grp, pos) {
  return { type:'scatter', xAxisIndex:k, yAxisIndex:k, z:4, symbol:'circle', symbolSize:8, silent:true,
    data: genes.map((g, i) => ({ name:g, value:[fc[i], p[i]], itemStyle:{ color:ptFill[grp[i]], borderColor:ptBorder[grp[i]], borderWidth:0.6, opacity:1 } })),
    label:{ show:true, formatter:'{b}', fontSize:20, fontWeight:'bold', color:'#000', opacity:1, fontFamily:FF, align:'center', verticalAlign:'middle' },
    labelLine:{ show:true, length2:0, lineStyle:{ color:'#ABABAB', width:1.4, opacity:1 } },
    labelLayout:(params) => { const q = pos[genes[params.dataIndex]]; return { x:q[0], y:q[1], align:'center', verticalAlign:'middle' }; }
  };
}
function cutoffSeries(k) {
  return { type:'scatter', xAxisIndex:k, yAxisIndex:k, data:[], z:6, silent:true,
    markLine:{ silent:true, z:6, symbol:['none','none'], label:{show:false}, animation:false,
      lineStyle:{ color:'#333', type:[7,5], width:1.5 },
      data:[ {xAxis:-fcCutoff}, {xAxis:fcCutoff}, {yAxis:padjCutoff} ] } };
}

series.push(pointSeries(0, aGrey, 'grey', 1));
series.push(pointSeries(0, aBlue, 'blue', 2));
series.push(pointSeries(0, aGreen, 'green', 3));
series.push(labelSeries(0, aGenes, aGeneFC, aGeneP, aGeneGroup, aLabelPos));
series.push(cutoffSeries(0));
series.push(pointSeries(1, bGrey, 'grey', 1));
series.push(pointSeries(1, bBlue, 'blue', 2));
series.push(pointSeries(1, bRed, 'red', 3));
series.push(labelSeries(1, bGenes, bGeneFC, bGeneP, bGeneGroup, bLabelPos));
series.push(cutoffSeries(1));

// ---- Panel C facets ----
const triSeriesIdx = [];
facets.forEach((f, fi) => {
  const gi = 2 + fi;
  const n = f.paths.length;
  const top = facetStripTops[fi] + stripH;
  const h = (n + 0.2) * rowH;
  const isLast = fi === facets.length - 1;
  const rowIdx = f.paths.map((_, i) => i);
  grid.push({ left:cLeft, top:top, width:cWidth, height:h, show:true, borderColor:'#333', borderWidth:1.3, backgroundColor:'#fff', containLabel:false, outerBoundsMode:'none' });
  xAxis.push({ type:'value', gridIndex:gi, min:-0.6, max:1.6, splitNumber:2,
    axisLine:{show:false, onZero:false},
    axisTick:{show:isLast, length:5, customValues:[0,1], lineStyle:{color:'#333'}},
    axisLabel:{show:isLast, customValues:[0,1], margin:8, fontSize:25, fontWeight:'bold', color:'#000', fontFamily:FF, lineHeight:27,
      formatter:(v) => (Number.isInteger(v) && groupLabels[v]) ? groupLabels[v] : ''},
    splitLine:{show:true, lineStyle:{color:'#EBEBEB', width:1.3}} });
  yAxis.push({ type:'value', gridIndex:gi, inverse:true, min:-0.6, max:n - 0.4, splitNumber:n + 1,
    axisLine:{show:false, onZero:false},
    axisTick:{show:true, length:5, customValues:rowIdx, lineStyle:{color:'#333'}},
    axisLabel:{customValues:rowIdx, margin:11, fontSize:25, fontWeight:'bold', color:'#000', fontFamily:FF,
      formatter:(v) => (Number.isInteger(v) && f.paths[v]) ? f.paths[v] : ''},
    splitLine:{show:true, lineStyle:{color:'#EBEBEB', width:1.3}} });
  ['Up','Down'].forEach((dir) => {
    const data = [];
    f.paths.forEach((_, i) => {
      if (f.noneDir[i] === dir) data.push([0, i, f.noneP[i]]);
      if (f.sympDir[i] === dir) data.push([1, i, f.sympP[i]]);
    });
    triSeriesIdx.push(series.length);
    series.push({ type:'scatter', name:dir, xAxisIndex:gi, yAxisIndex:gi, data:data, z:5,
      symbol:'triangle', symbolSize:[33, 28], symbolRotate: dir === 'Down' ? 180 : 0,
      symbolOffset: dir === 'Down' ? [0, 3] : [0, -4],
      itemStyle:{ borderColor:'#000', borderWidth:1, opacity:1 } });
  });
  graphic.push({ type:'rect', z:10, shape:{ x:cLeft, y:facetStripTops[fi], width:cWidth, height:stripH },
    style:{ fill:'#D9D9D9', stroke:'#333', lineWidth:1.3 } });
  graphic.push({ type:'text', z:11, x:cLeft + cWidth / 2, y:facetStripTops[fi] + stripH / 2 + 1,
    style:{ text:f.name, fill:'#1A1A1A', font:'bold 25px ' + FF, align:'center', verticalAlign:'middle', textAlign:'center', textVerticalAlign:'middle' } });
});

// colour bar labels and white tick marks
pLegendExponents.forEach((e) => {
  const y = cbar.top + (padjRange[1] - e) / (padjRange[1] - padjRange[0]) * cbar.height;
  graphic.push({ type:'text', z:11, x:cbar.left + cbar.width + 26, y:y,
    style:{ text:'{b|10}{s|−' + e + '}', fill:'#1A1A1A', align:'left', verticalAlign:'middle', textAlign:'left', textVerticalAlign:'middle',
      rich:{ b:{fontSize:24, fontFamily:FF, fill:'#1A1A1A', color:'#1A1A1A', lineHeight:31, verticalAlign:'bottom'}, s:{fontSize:18, fontFamily:FF, fill:'#1A1A1A', color:'#1A1A1A', verticalAlign:'top'} } } });
  [[cbar.left, cbar.left + 4], [cbar.left + cbar.width - 4, cbar.left + cbar.width]].forEach((seg) => {
    graphic.push({ type:'line', z:12, shape:{ x1:seg[0], y1:y, x2:seg[1], y2:y }, style:{ stroke:'rgba(255,255,255,0.8)', lineWidth:1 } });
  });
});

const titles = [
  { text:'A', left:0, top:3, textStyle:{fontSize:27, fontWeight:'bold'} },
  { text:'No Symptoms (Followup vs Hospital)', left:92, top:47, textStyle:{fontSize:29.7, fontWeight:'bold'} },
  { text:'Up: 2459, Down: 3074, Unique: 4112', left:92, top:86, textStyle:{fontSize:25.7, fontWeight:'normal', color:'#1A1A1A'} },
  { text:'B', left:0, top:472, textStyle:{fontSize:27, fontWeight:'bold'} },
  { text:'Symptomatic (Followup vs Hospital)', left:92, top:499, textStyle:{fontSize:29.7, fontWeight:'bold'} },
  { text:'Up: 653, Down: 927, Unique: 159', left:92, top:538, textStyle:{fontSize:25.7, fontWeight:'normal', color:'#1A1A1A'} },
  { text:'C', left:700, top:3, textStyle:{fontSize:27, fontWeight:'bold'} },
  { text:'Regulation', left:1420, top:266, textStyle:{fontSize:26.8, fontWeight:'normal', color:'#1A1A1A'} },
  { text:'{p|P}{s|adjusted}', left:1420, top:424, textStyle:{ rich:{ p:{fontSize:25, fontFamily:FF, color:'#1A1A1A'}, s:{fontSize:18, fontFamily:FF, color:'#1A1A1A', verticalAlign:'bottom'} } } }
].map(t => { t.padding = 0; t.textStyle.fontFamily = FF; if (!t.textStyle.color) t.textStyle.color = '#000'; return t; });

const option = {
  animation:false,
  backgroundColor:'#fff',
  textStyle:{ fontFamily:FF },
  title:titles,
  grid:grid, xAxis:xAxis, yAxis:yAxis, series:series, graphic:graphic,
  legend:{ orient:'vertical', left:1420, top:304, itemWidth:34, itemHeight:29, itemGap:8, selectedMode:false, padding:0,
    textStyle:{ fontSize:24, color:'#1A1A1A', fontFamily:FF, padding:[0,0,0,10] },
    data:[ { name:'Up', icon:'triangle', itemStyle:{ color:'rgba(0,0,0,0)', borderColor:'#000', borderWidth:1.2 } },
           { name:'Down', icon:'path://M0,0L34,0L17,29Z', itemStyle:{ color:'rgba(0,0,0,0)', borderColor:'#000', borderWidth:1.2 } } ] },
  visualMap:{ type:'continuous', min:padjRange[0], max:padjRange[1], dimension:2, seriesIndex:triSeriesIdx,
    left:cbar.left, top:cbar.top, itemWidth:cbar.width, itemHeight:cbar.height, padding:0,
    calculable:false, realtime:false, hoverLink:false, inRange:{ color:gradient } }
};

const chart = echarts.init(document.getElementById('chart'), null, { renderer:'canvas' });
chart.setOption(option);
</script>
</body>
</html>
